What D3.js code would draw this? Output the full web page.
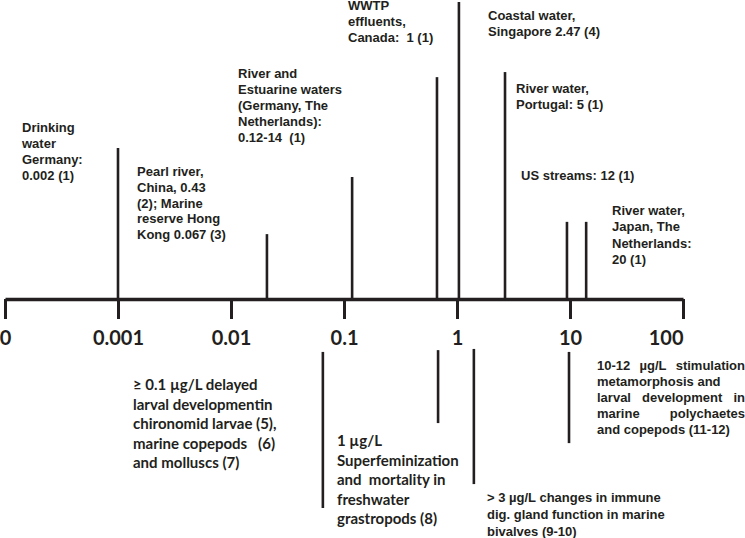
<!DOCTYPE html>
<html><head><meta charset="utf-8">
<script src="https://cdn.jsdelivr.net/npm/d3@7"></script>
<style>
body{margin:0;background:#fff}
svg{display:block}
text{white-space:pre}
</style>
</head><body>
<svg id="c" width="745" height="538"></svg>
<script>
// ---------- DATA ----------
const tickValues = [1e-4, 1e-3, 1e-2, 1e-1, 1, 10, 100];
const tickLabels = ["0", "0.001", "0.01", "0.1", "1", "10", "100"];

// Occurrence (above the axis)
const occurrenceLabels = [
  ["Drinking", "water", "Germany:", "0.002 (1)"],
  ["Pearl river,", "China, 0.43", "(2); Marine", "reserve Hong", "Kong 0.067 (3)"],
  ["River and", "Estuarine waters", "(Germany, The", "Netherlands):", "0.12-14  (1)"],
  ["WWTP", "effluents,", "Canada:  1 (1)"],
  ["Coastal water,", "Singapore 2.47 (4)"],
  ["River water,", "Portugal: 5 (1)"],
  ["US streams: 12 (1)"],
  ["River water,", "Japan, The", "Netherlands:", "20 (1)"]
];
const occurrenceValues = [0.001, 0.0208, 0.118, 0.665, 1.04, 2.66, 9.4, 13.9];
const occurrenceLevels = [50.5, 21.7, 40.8, 74.2, 99.3, 75.9, 25.8, 25.8];

// Effects (below the axis)
const effectLabels = [
  ["\u2265 0.1 \u00b5g/L delayed", "larval developmentin", "chironomid larvae (5),", "marine copepods   (6)", "and molluscs (7)"],
  ["1 \u00b5g/L", "Superfeminization", "and  mortality in", "freshwater", "grastropods (8)"],
  ["> 3 \u00b5g/L changes in immune", "dig. gland function in marine", "bivalves (9-10)"],
  ["10-12 \u00b5g/L  stimulation", "metamorphosis and", "larval  development  in", "marine      polychaetes", "and copepods (11-12)"]
];
const effectValues = [0.065, 0.68, 1.41, 9.8];
const effectLevelTop = [-17.7, -17.1, -16.7, -17.7];
const effectLevelBottom = [-69.9, -41.5, -61.9, -48.2];

// ---------- LAYOUT (text block placement) ----------
const ARIAL = "'Liberation Sans', Arial, sans-serif";
const CALIBRI = "Lato, 'Open Sans', sans-serif";
const occurrenceLayout = [
  {x: 22, y: 132, lh: 16},
  {x: 137, y: 176, lh: 15.75},
  {x: 238, y: 78, lh: 16},
  {x: 348, y: 10, lh: 16},
  {x: 488, y: 20, lh: 16},
  {x: 516, y: 93, lh: 16},
  {x: 521, y: 180, lh: 16},
  {x: 612, y: 215, lh: 16.3}
];
const effectLayout = [
  {x: 133, y: 390, lh: 19.5, font: CALIBRI, size: 15},
  {x: 337, y: 446, lh: 19.5, font: CALIBRI, size: 15},
  {x: 487, y: 502, lh: 17, font: ARIAL, size: 13},
  {x: 597, y: 370, lh: 16, font: ARIAL, size: 13, justify: [true, false, true, true, false], width: 148}
];

// ---------- CHART ----------
const ink = "#231f20";
const svg = d3.select("#c");

const x = d3.scaleLog().domain([1e-4, 100]).range([5, 683]);
const level = d3.scaleLinear().domain([-100, 100]).range([598, 0]);
const axisY = level(0);

// occurrence lines
svg.append("g").selectAll("line")
  .data(occurrenceValues)
  .join("line")
  .attr("x1", d => x(d)).attr("x2", d => x(d))
  .attr("y1", axisY).attr("y2", (d, i) => level(occurrenceLevels[i]))
  .attr("stroke", ink).attr("stroke-width", 2.6);

// effect lines
svg.append("g").selectAll("line")
  .data(effectValues)
  .join("line")
  .attr("x1", d => x(d)).attr("x2", d => x(d))
  .attr("y1", (d, i) => level(effectLevelTop[i]))
  .attr("y2", (d, i) => level(effectLevelBottom[i]))
  .attr("stroke", ink).attr("stroke-width", 2.6);

// axis
const axis = d3.axisBottom(x)
  .tickValues(tickValues)
  .tickFormat((d, i) => tickLabels[i])
  .tickSize(20)
  .tickSizeOuter(0);
const ag = svg.append("g").attr("transform", `translate(0,${axisY})`).call(axis);
ag.select(".domain").attr("stroke", ink).attr("stroke-width", 3.6);
ag.selectAll(".tick line").attr("stroke", ink).attr("stroke-width", 3);
ag.selectAll(".tick text")
  .attr("y", 46).attr("dy", 0)
  .attr("fill", ink)
  .style("font-family", CALIBRI)
  .style("font-weight", "bold")
  .style("font-size", "20px")
  .attr("text-anchor", (d, i) => i === tickLabels.length - 1 ? "end" : "middle");

function drawBlock(lines, lay, font, size) {
  const g = svg.append("g")
    .attr("fill", ink)
    .style("font-family", font)
    .style("font-weight", "bold")
    .style("font-size", size + "px");
  lines.forEach((str, i) => {
    const yy = lay.y + i * lay.lh;
    if (lay.justify && lay.justify[i]) {
      const words = str.split(/\s+/);
      const nodes = words.map(w => g.append("text").attr("y", yy).text(w));
      const widths = nodes.map(n => n.node().getComputedTextLength());
      const gap = (lay.width - d3.sum(widths)) / (words.length - 1);
      let cx = lay.x;
      nodes.forEach((n, k) => { n.attr("x", cx); cx += widths[k] + gap; });
    } else {
      g.append("text").attr("x", lay.x).attr("y", yy).text(str);
    }
  });
}

occurrenceLabels.forEach((lines, i) => drawBlock(lines, occurrenceLayout[i], ARIAL, 13));
effectLabels.forEach((lines, i) => drawBlock(lines, effectLayout[i], effectLayout[i].font, effectLayout[i].size));
</script>
</body></html>
